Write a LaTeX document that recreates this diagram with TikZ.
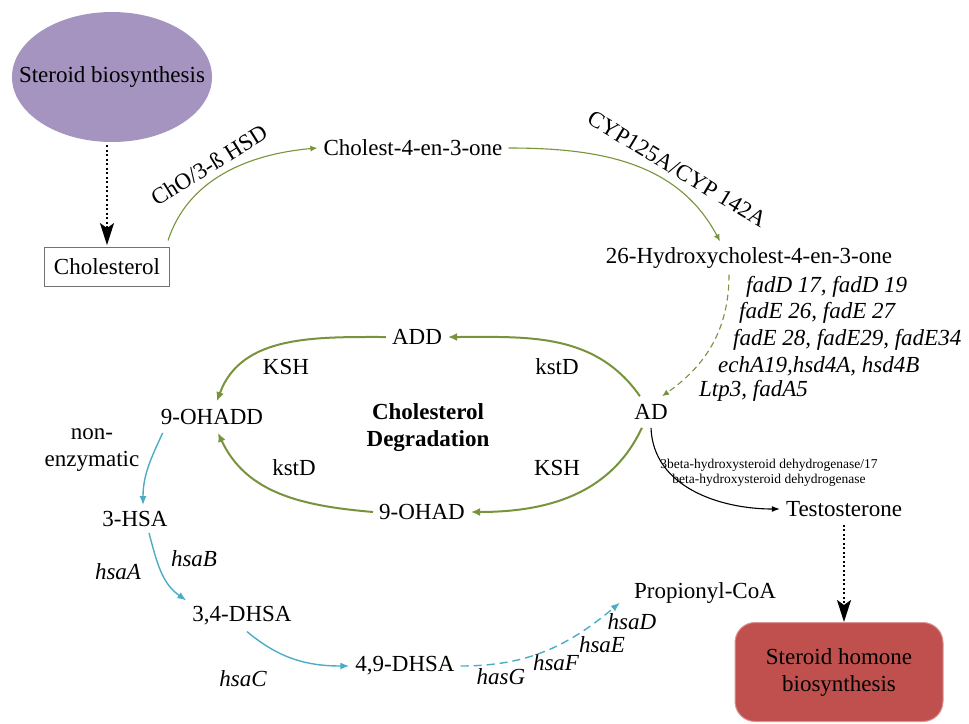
\documentclass[tikz,border=0pt]{standalone}
\usepackage{fontspec}
\setmainfont{Liberation Serif}
\usepackage{xcolor}
\usepackage{tikz}
\usetikzlibrary{arrows.meta,shapes.geometric}
\newcommand{\cpdsize}{\fontsize{23}{27}\selectfont}
\newcommand{\notesize}{\fontsize{13.5}{15}\selectfont}
\definecolor{pathgreen}{HTML}{77933C}
\definecolor{degblue}{HTML}{4BACC6}
\definecolor{srcpurple}{HTML}{A594C0}
\definecolor{sinkred}{HTML}{C0504D}

\begin{document}
\begin{tikzpicture}[x=1pt,y=1pt]
    \useasboundingbox (0,0) rectangle (969,-723);

    \tikzstyle{cpd}=[font=\cpdsize,inner sep=6pt]
    \tikzstyle{enz}=[font=\cpdsize,inner sep=1pt]
    \tikzstyle{gene}=[font=\cpdsize\itshape,inner sep=1pt,anchor=west]
    \tikzstyle{genec}=[font=\cpdsize\itshape,inner sep=1pt]
    \tikzstyle{note}=[font=\notesize,align=center,inner sep=1pt]
    \tikzstyle{pathway}=[font=\cpdsize\bfseries,align=center,inner sep=1pt]
    \tikzstyle{src}=[ellipse,fill=srcpurple,minimum width=200pt,minimum height=130pt,inner xsep=-24pt,inner ysep=0pt,font=\cpdsize]
    \tikzstyle{sink}=[rounded corners=20pt,fill=sinkred,draw=sinkred!60!white,line width=1pt,minimum width=208pt,minimum height=99pt,align=center,font=\cpdsize]
    \tikzstyle{cholbox}=[draw=black!55,line width=0.8pt,minimum width=125pt,minimum height=39pt,font=\cpdsize]

    \node[src]     (steroid) at (112,-77) {Steroid biosynthesis};
    \node[cholbox] (chol) at (107,-267) {Cholesterol};

    \node[cpd] (c4)  at (413,-148) {Cholest-4-en-3-one};
    \node[cpd] (hyd) at (749,-258) {26-Hydroxycholest-4-en-3-one};

    \node[enz,rotate=32]  (cho) at (209,-165) {ChO/3-ß HSD};
    \node[enz,rotate=-31] (cyp) at (677,-169) {CYP125A/CYP 142A};

    \node[gene] (g1) at (745,-287) {fadD 17, fadD 19};
    \node[gene] (g2) at (738,-313) {fadE 26, fadE 27};
    \node[gene] (g3) at (732,-340) {fadE 28, fadE29, fadE34};
    \node[gene] (g4) at (717,-366) {echA19,hsd4A, hsd4B};
    \node[gene] (g5) at (698,-391) {Ltp3, fadA5};

    % degradation cycle
    \node[cpd,inner sep=8pt] (ad)    at (651,-412) {AD};
    \node[cpd]               (add)   at (417,-337) {ADD};
    \node[cpd,inner sep=8pt] (ohadd) at (212,-417) {9-OHADD};
    \node[cpd]               (ohad)  at (422,-512) {9-OHAD};
    \node[pathway]           (cd)    at (428,-428) {Cholesterol\\Degradation};

    \node[enz] (ksha)  at (286,-367) {KSH};
    \node[enz] (kstda) at (557,-367) {kstD};
    \node[enz] (kstdb) at (294,-468) {kstD};
    \node[enz] (kshb)  at (557,-468) {KSH};

    \node[cpd]  (testo)   at (844,-509) {Testosterone};
    \node[note] (hsd)     at (769,-473) {3beta-hydroxysteroid dehydrogenase/17\\beta-hydroxysteroid dehydrogenase};
    \node[sink] (hormone) at (839,-672) {Steroid homone\\biosynthesis};

    % side chain and ring
    \node[enz,align=center] (nonenz) at (92,-450) {non-\\enzymatic};
    \node[cpd] (hsa)  at (135,-519) {3-HSA};
    \node[cpd] (dhsa) at (242,-616) {3,4-DHSA};
    \node[cpd] (dhsb) at (405,-666) {4,9-DHSA};
    \node[cpd] (prop) at (705,-593) {Propionyl-CoA};

    \node[genec] (hsaa) at (118,-572) {hsaA};
    \node[genec] (hsab) at (194,-559) {hsaB};
    \node[genec] (hsac) at (243,-679) {hsaC};
    \node[genec] (hasg) at (501,-677) {hasG};
    \node[genec] (hsaf) at (556,-663) {hsaF};
    \node[genec] (hsae) at (602,-645) {hsaE};
    \node[genec] (hsad) at (632,-622) {hsaD};

    \tikzstyle{conv}=[draw=pathgreen,line width=1.1pt,-{Latex[length=7pt,width=6pt]}]
    \tikzstyle{multi}=[conv,dash pattern=on 6pt off 4pt]
    \tikzstyle{cyc}=[draw=pathgreen,line width=2pt,-{Latex[length=9pt,width=8pt]}]
    \tikzstyle{deg}=[draw=degblue,line width=1.4pt,-{Latex[length=9pt,width=7pt]}]
    \tikzstyle{degd}=[deg,dash pattern=on 8pt off 5pt]
    \tikzstyle{synth}=[draw=black,line width=1.1pt,-{Latex[length=8pt,width=6pt]}]
    \tikzstyle{link}=[draw=black,line width=2pt,dash pattern=on 2pt off 2.5pt,-{Stealth[length=22pt,width=14pt,inset=5pt]}]

    \draw [link,shorten <=3pt,shorten >=2pt] (steroid.south -| chol.north) -- (chol.north);
    \draw [conv,shorten <=7pt] ([xshift=-4pt]chol.north east) to[out=72,in=185] (c4.west);
    \draw [conv] (c4.east) to[out=0,in=118] ([xshift=-29pt]hyd.north);
    \draw [multi] ([xshift=-20pt]hyd.south) to[out=-90,in=35] (ad.55);

    \draw [cyc] (ad.125) to[out=125,in=0] (add.east);
    \draw [cyc] (add.west) to[out=180,in=70] ([xshift=5pt]ohadd.north);
    \draw [cyc] (ad.-120) to[out=-115,in=0] (ohad.east);
    \draw [cyc] (ohad.west) to[out=175,in=-65] ([xshift=6pt]ohadd.south);

    \draw [synth] (ad.south) to[out=-88,in=180] (testo.west);
    \draw [link,shorten <=2pt] (testo.south) -- (testo.south |- hormone.north);

    \draw [deg] ([xshift=10pt]ohadd.south west) to[out=-115,in=90] ([xshift=8pt]hsa.north);
    \draw [deg] ([xshift=14pt]hsa.south) to[out=-75,in=145] (dhsa.north west);
    \draw [deg] ([xshift=5pt]dhsa.south) to[out=-40,in=180] (dhsb.west);
    \draw [degd] (dhsb.east) to[out=0,in=-140] ([xshift=-8pt,yshift=7pt]prop.south west);

\end{tikzpicture}
\end{document}
